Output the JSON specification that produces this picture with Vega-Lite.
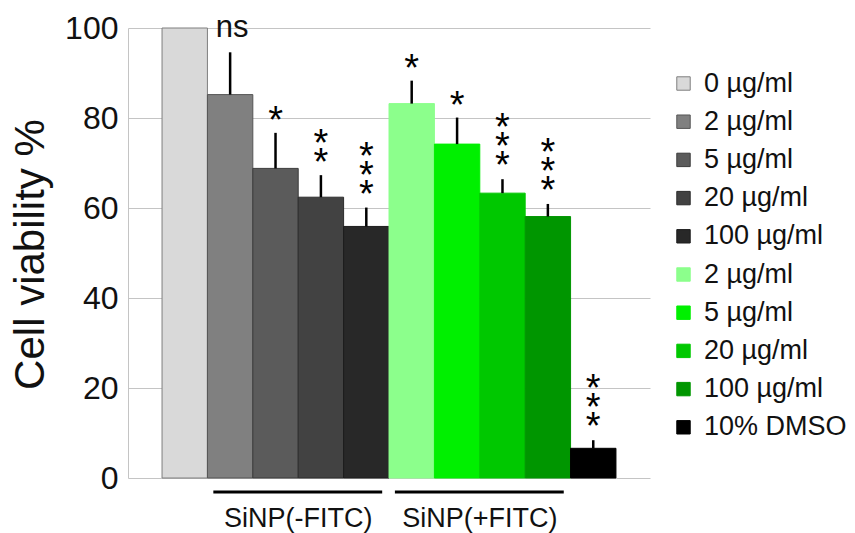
{
  "$schema": "https://vega.github.io/schema/vega-lite/v6.json",
  "width": 522,
  "height": 450,
  "autosize": {"type": "none"},
  "padding": {"left": 128, "top": 28, "right": 205, "bottom": 55},
  "background": "white",
  "config": {
    "view": {"stroke": null},
    "font": "Liberation Sans",
    "text": {"font": "Liberation Sans"}
  },
  "datasets": {
    "bars": [
      {"key": "ctrl|0 µg/ml", "value": 100, "upper": null, "sig": ""},
      {"key": "-FITC|2 µg/ml", "value": 85.2, "upper": 94.6, "sig": "ns"},
      {"key": "-FITC|5 µg/ml", "value": 68.8, "upper": 76.7, "sig": "*"},
      {"key": "-FITC|20 µg/ml", "value": 62.4, "upper": 67.3, "sig": "*\n*"},
      {"key": "-FITC|100 µg/ml", "value": 55.9, "upper": 60.1, "sig": "*\n*\n*"},
      {"key": "+FITC|2 µg/ml", "value": 83.2, "upper": 88.3, "sig": "*"},
      {"key": "+FITC|5 µg/ml", "value": 74.2, "upper": 80.1, "sig": "*"},
      {"key": "+FITC|20 µg/ml", "value": 63.3, "upper": 66.4, "sig": "*\n*\n*"},
      {"key": "+FITC|100 µg/ml", "value": 58.1, "upper": 60.9, "sig": "*\n*\n*"},
      {"key": "dmso|10% DMSO", "value": 6.6, "upper": 8.4, "sig": "*\n*\n*"}
    ],
    "groups": [
      {"start": "-FITC|2 µg/ml", "end": "-FITC|100 µg/ml", "mid": "-FITC|20 µg/ml", "label": "SiNP(-FITC)"},
      {"start": "+FITC|2 µg/ml", "end": "+FITC|100 µg/ml", "mid": "+FITC|20 µg/ml", "label": "SiNP(+FITC)"}
    ]
  },
  "layer": [
    {
      "data": {"name": "bars"},
      "mark": {"type": "bar", "strokeWidth": 1},
      "encoding": {
        "x": {
          "field": "key", "type": "nominal", "axis": null,
          "scale": {
            "domain": ["ctrl|0 µg/ml", "-FITC|2 µg/ml", "-FITC|5 µg/ml", "-FITC|20 µg/ml", "-FITC|100 µg/ml", "+FITC|2 µg/ml", "+FITC|5 µg/ml", "+FITC|20 µg/ml", "+FITC|100 µg/ml", "dmso|10% DMSO"],
            "paddingInner": 0, "paddingOuter": 0.75
          }
        },
        "y": {
          "field": "value", "type": "quantitative",
          "scale": {"domain": [0, 100], "nice": false},
          "axis": {
            "values": [0, 20, 40, 60, 80, 100],
            "title": "Cell viability %",
            "titleFont": "Liberation Sans",
            "titleFontSize": 42,
            "titleFontWeight": "normal",
            "titleColor": "#111111",
            "titleX": -85,
            "titleY": 226,
            "titleAngle": -90,
            "titleAlign": "center",
            "titleBaseline": "alphabetic",
            "labelFont": "Liberation Sans",
            "labelFontSize": 32,
            "labelColor": "#111111",
            "labelPadding": 10,
            "ticks": false,
            "tickSize": 0,
            "grid": true,
            "gridColor": "#c4c4c4",
            "gridWidth": 1,
            "domainColor": "#c4c4c4",
            "domainWidth": 1
          }
        },
        "color": {
          "field": "key", "type": "nominal",
          "scale": {
            "domain": ["ctrl|0 µg/ml", "-FITC|2 µg/ml", "-FITC|5 µg/ml", "-FITC|20 µg/ml", "-FITC|100 µg/ml", "+FITC|2 µg/ml", "+FITC|5 µg/ml", "+FITC|20 µg/ml", "+FITC|100 µg/ml", "dmso|10% DMSO"],
            "range": ["#d9d9d9", "#808080", "#5b5b5b", "#424242", "#282828", "#8cff8c", "#00f000", "#00c800", "#009600", "#000000"]
          },
          "legend": {
            "title": null,
            "orient": "none",
            "legendX": 542,
            "legendY": 42,
            "padding": 0,
            "symbolType": "square",
            "symbolSize": 180,
            "symbolStrokeWidth": 1,
            "symbolOpacity": 1,
            "labelFont": "Liberation Sans",
            "labelFontSize": 27,
            "labelColor": "#111111",
            "labelOffset": 7,
            "rowPadding": 10.2,
            "labelLimit": 300,
            "labelExpr": "split(datum.label, '|')[1]"
          }
        },
        "stroke": {
          "field": "key", "type": "nominal",
          "scale": {
            "domain": ["ctrl|0 µg/ml", "-FITC|2 µg/ml", "-FITC|5 µg/ml", "-FITC|20 µg/ml", "-FITC|100 µg/ml", "+FITC|2 µg/ml", "+FITC|5 µg/ml", "+FITC|20 µg/ml", "+FITC|100 µg/ml", "dmso|10% DMSO"],
            "range": ["#7f7f7f", "#555555", "#3c3c3c", "#2c2c2c", "#1c1c1c", "#8cff8c", "#00f000", "#00c800", "#009600", "#000000"]
          },
          "legend": {
            "title": null,
            "orient": "none",
            "legendX": 542,
            "legendY": 42,
            "padding": 0,
            "symbolType": "square",
            "symbolSize": 180,
            "symbolStrokeWidth": 1,
            "symbolOpacity": 1,
            "labelFont": "Liberation Sans",
            "labelFontSize": 27,
            "labelColor": "#111111",
            "labelOffset": 7,
            "rowPadding": 10.2,
            "labelLimit": 300,
            "labelExpr": "split(datum.label, '|')[1]"
          }
        }
      }
    },
    {
      "data": {"name": "bars"},
      "transform": [{"filter": "datum.upper != null"}],
      "mark": {"type": "rule", "color": "#000000", "strokeWidth": 2.5},
      "encoding": {
        "x": {"field": "key", "type": "nominal"},
        "y": {"field": "value", "type": "quantitative"},
        "y2": {"field": "upper"}
      }
    },
    {
      "data": {"name": "bars"},
      "transform": [{"filter": "datum.sig == '*'"}],
      "mark": {"type": "text", "fontSize": 38, "lineBreak": "\n", "lineHeight": 19, "baseline": "bottom", "align": "center", "dy": 8, "color": "#000000"},
      "encoding": {
        "x": {"field": "key", "type": "nominal"},
        "y": {"field": "upper", "type": "quantitative"},
        "text": {"field": "sig"}
      }
    },
    {
      "data": {"name": "bars"},
      "transform": [{"filter": "datum.sig == '*\\n*'"}],
      "mark": {"type": "text", "fontSize": 38, "lineBreak": "\n", "lineHeight": 19, "baseline": "bottom", "align": "center", "dy": -11, "color": "#000000"},
      "encoding": {
        "x": {"field": "key", "type": "nominal"},
        "y": {"field": "upper", "type": "quantitative"},
        "text": {"field": "sig"}
      }
    },
    {
      "data": {"name": "bars"},
      "transform": [{"filter": "datum.sig == '*\\n*\\n*'"}],
      "mark": {"type": "text", "fontSize": 38, "lineBreak": "\n", "lineHeight": 19, "baseline": "bottom", "align": "center", "dy": -31, "color": "#000000"},
      "encoding": {
        "x": {"field": "key", "type": "nominal"},
        "y": {"field": "upper", "type": "quantitative"},
        "text": {"field": "sig"}
      }
    },
    {
      "data": {"name": "bars"},
      "transform": [{"filter": "datum.sig == 'ns'"}],
      "mark": {"type": "text", "fontSize": 31, "baseline": "alphabetic", "align": "center", "dx": 2, "dy": -15, "color": "#111111"},
      "encoding": {
        "x": {"field": "key", "type": "nominal"},
        "y": {"field": "upper", "type": "quantitative"},
        "text": {"field": "sig"}
      }
    },
    {
      "data": {"name": "groups"},
      "mark": {"type": "rule", "color": "#000000", "strokeWidth": 3, "yOffset": 14},
      "encoding": {
        "x": {"field": "start", "type": "nominal", "bandPosition": 0.13},
        "x2": {"field": "end", "bandPosition": 0.85},
        "y": {"datum": 0}
      }
    },
    {
      "data": {"name": "groups"},
      "mark": {"type": "text", "fontSize": 27, "baseline": "alphabetic", "align": "center", "dy": 49, "color": "#111111"},
      "encoding": {
        "x": {"field": "mid", "type": "nominal", "bandPosition": 0},
        "y": {"datum": 0},
        "text": {"field": "label"}
      }
    }
  ]
}
